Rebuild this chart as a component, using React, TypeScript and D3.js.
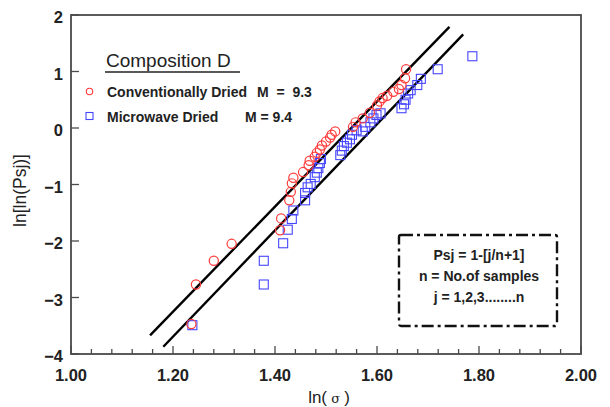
import React from "react";
import * as d3 from "d3";

const convX = [1.236, 1.245, 1.28, 1.315, 1.41, 1.412, 1.428, 1.431, 1.433, 1.436, 1.455, 1.466, 1.468, 1.478, 1.482, 1.488, 1.492, 1.5, 1.508, 1.511, 1.518, 1.553, 1.558, 1.572, 1.586, 1.6, 1.605, 1.611, 1.62, 1.632, 1.643, 1.648, 1.655, 1.657];
const convY = [-3.47, -2.77, -2.35, -2.05, -1.81, -1.6, -1.28, -1.13, -0.98, -0.88, -0.78, -0.66, -0.58, -0.51, -0.44, -0.38, -0.31, -0.24, -0.17, -0.12, -0.06, 0.02, 0.1, 0.17, 0.27, 0.4, 0.47, 0.53, 0.57, 0.64, 0.69, 0.76, 0.88, 1.04];

const microX = [1.238, 1.378, 1.378, 1.416, 1.425, 1.433, 1.436, 1.459, 1.459, 1.464, 1.47, 1.478, 1.482, 1.485, 1.488, 1.49, 1.528, 1.531, 1.535, 1.541, 1.547, 1.551, 1.56, 1.572, 1.577, 1.587, 1.593, 1.599, 1.607, 1.648, 1.653, 1.656, 1.661, 1.666, 1.679, 1.686, 1.719, 1.787];
const microY = [-3.49, -2.35, -2.77, -2.04, -1.8, -1.61, -1.46, -1.28, -1.15, -1.05, -0.99, -0.87, -0.79, -0.71, -0.62, -0.55, -0.48, -0.4, -0.32, -0.26, -0.2, -0.12, -0.04, -0.06, 0.02, 0.1, 0.17, 0.23, 0.26, 0.35, 0.42, 0.5, 0.61, 0.67, 0.76, 0.87, 1.04, 1.27];

const fitSlope = [9.3, 9.4];
const fitX0 = [1.5495, 1.5928];
const fitStart = [1.155, 1.181];
const fitEnd = [1.742, 1.769];

const xTicks = [1.0, 1.2, 1.4, 1.6, 1.8, 2.0];
const xTickLabels = ["1.00", "1.20", "1.40", "1.60", "1.80", "2.00"];
const yTicks = [2, 1, 0, -1, -2, -3, -4];
const yTickLabels = ["2", "1", "0", "\u22121", "\u22122", "\u22123", "\u22124"];

const legendLabels = ["Conventionally Dried", "Microwave Dried"];
const legendM = ["M\u00a0\u00a0=\u00a0\u00a09.3", "M = 9.4"];
const boxLines = ["Psj = 1-[j/n+1]", "n = No.of samples", "j = 1,2,3........n"];

const W = 610, H = 407;
const L = 71, R = 581, T = 15, B = 354;
const RED = "#ff3b3b";
const BLUE = "#4646ff";
const FRAME = "#4a4a4a";
const FONT = "Liberation Sans, Arial, Helvetica, sans-serif";

export default function App() {
  const x = d3.scaleLinear().domain([1, 2]).range([L, R]);
  const y = d3.scaleLinear().domain([-4, 2]).range([B, T]);
  const minor = d3.range(1, 2.0001, 0.04);
  const line = d3.line<[number, number]>().x(d => x(d[0])).y(d => y(d[1]));
  const conv = convX.map((v, i) => [v, convY[i]]);
  const micro = microX.map((v, i) => [v, microY[i]]);
  return (
    <svg width={W} height={H} style={{ position: "absolute", left: 0, top: 0, background: "#fff" }} fontFamily={FONT}>
      <rect x={0} y={0} width={W} height={H} fill="#fff" />
      {/* ticks */}
      {minor.map((t, i) => {
        const isMajor = Math.abs(t * 5 - Math.round(t * 5)) < 1e-6;
        return <line key={"mx" + i} x1={x(t)} x2={x(t)} y1={B} y2={B - (isMajor ? 8 : 5)} stroke={FRAME} strokeWidth={1.3} />;
      })}
      {yTicks.map((t, i) => (
        <line key={"yt" + i} x1={L} x2={L + 8} y1={y(t)} y2={y(t)} stroke={FRAME} strokeWidth={1.3} />
      ))}
      {/* fit lines */}
      {fitSlope.map((m, i) => (
        <path key={"fit" + i}
          d={line([[fitStart[i], m * (fitStart[i] - fitX0[i])], [fitEnd[i], m * (fitEnd[i] - fitX0[i])]]) || ""}
          stroke="#000" strokeWidth={2.4} fill="none" />
      ))}
      {/* data */}
      {micro.map((d, i) => (
        <rect key={"m" + i} x={x(d[0]) - 4.5} y={y(d[1]) - 4.5} width={9} height={9} fill="none" stroke={BLUE} strokeWidth={1.1} />
      ))}
      {conv.map((d, i) => (
        <circle key={"c" + i} cx={x(d[0])} cy={y(d[1])} r={4.6} fill="none" stroke={RED} strokeWidth={1.2} />
      ))}
      {/* frame */}
      <rect x={L} y={T} width={R - L} height={B - T} fill="none" stroke={FRAME} strokeWidth={1.8} />
      {/* tick labels */}
      {xTicks.map((t, i) => (
        <text key={"xl" + i} x={x(t)} y={381} textAnchor="middle" fontSize={16.5} fontWeight="bold" fill="#222">{xTickLabels[i]}</text>
      ))}
      {yTicks.map((t, i) => (
        <text key={"yl" + i} x={63} y={y(t) + 8} textAnchor="end" fontSize={16.5} fontWeight="bold" fill="#222">{yTickLabels[i]}</text>
      ))}
      {/* axis titles */}
      <text x={(L + R) / 2 + 3} y={403} textAnchor="middle" fontSize={17} fill="#222">
        ln(<tspan fontSize={13} fontFamily="DejaVu Serif, serif">{"\u00a0σ\u00a0"}</tspan>)
      </text>
      <text transform={`translate(26,${(T + B) / 2 + 6}) rotate(-90)`} textAnchor="middle" fontSize={17.5} fill="#222">ln[ln(Psj)]</text>
      {/* legend */}
      <text x={106} y={67} fontSize={19} fill="#222">Composition D</text>
      <line x1={105} x2={240} y1={72} y2={72} stroke="#222" strokeWidth={1.5} />
      <circle cx={89.5} cy={91.5} r={3.2} fill="none" stroke={RED} strokeWidth={1.1} />
      <rect x={86} y={112.5} width={7} height={7} fill="none" stroke={BLUE} strokeWidth={1.1} />
      <text x={107} y={96.5} fontSize={14} fontWeight="bold" fill="#222">{legendLabels[0]}</text>
      <text x={257} y={96.5} fontSize={14} fontWeight="bold" fill="#222">{legendM[0]}</text>
      <text x={107} y={121.5} fontSize={14} fontWeight="bold" fill="#222">{legendLabels[1]}</text>
      <text x={245} y={121.5} fontSize={14} fontWeight="bold" fill="#222">{legendM[1]}</text>
      {/* info box */}
      <rect x={399} y={235} width={158} height={91} rx={2} fill="none" stroke="#111" strokeWidth={2.4} strokeDasharray="12 4 3 4" />
      {boxLines.map((s, i) => (
        <text key={"bx" + i} x={479} y={260 + i * 21} textAnchor="middle" fontSize={14} fontWeight="bold" fill="#222">{s}</text>
      ))}
    </svg>
  );
}
